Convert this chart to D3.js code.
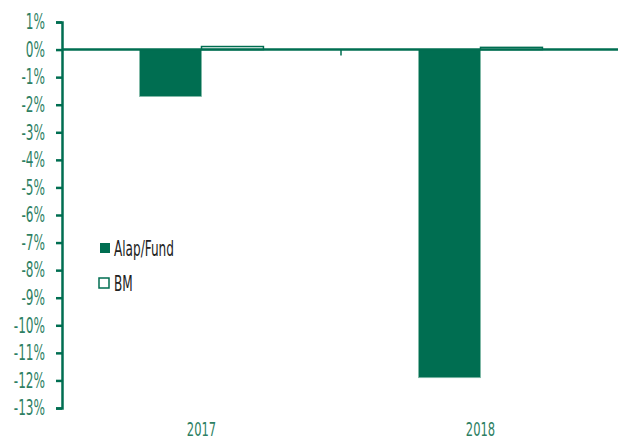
<!DOCTYPE html>
<html>
<head>
<meta charset="utf-8">
<script src="https://cdn.jsdelivr.net/npm/d3@7"></script>
<style>
  body { margin: 0; background: #fff; }
  text { font-family: "DejaVu Sans Condensed", "DejaVu Sans", sans-serif; }
</style>
</head>
<body>
<svg id="chart" width="618" height="441"></svg>
<script>
// chart data
var years = ["2017", "2018"];
var series = ["Alap/Fund", "BM"];
var fundValues = [-1.7, -11.9];
var bmValues = [0.11, 0.08];
var yTicks = [1, 0, -1, -2, -3, -4, -5, -6, -7, -8, -9, -10, -11, -12, -13];

var green = "#006e51";
var labelColor = "#2e7f63";
var squeeze = 0.64; // narrow look of the original font

var svg = d3.select("#chart");

var x = d3.scaleBand().domain(years).range([62, 620]);
var y = d3.scaleLinear().domain([-13, 1]).range([408, 22]);

var barW = x.bandwidth() * 0.222;

// y axis
var yAxis = d3.axisLeft(y).tickValues(yTicks).tickSize(6)
  .tickFormat(function(d) { return d + "%"; });
var gy = svg.append("g").attr("transform", "translate(62,0)").call(yAxis);
gy.select(".domain").attr("stroke", green).attr("stroke-width", 2.5);
gy.selectAll(".tick line").attr("stroke", green).attr("stroke-width", 2.5);
gy.selectAll(".tick text")
  .attr("fill", labelColor)
  .attr("x", 0)
  .attr("transform", "translate(-17,0) scale(" + squeeze + ",1)")
  .style("font-size", "21px");

// bars: fund
svg.selectAll("rect.fund")
  .data(fundValues)
  .enter().append("rect")
  .attr("class", "fund")
  .attr("x", function(d, i) { return x(years[i]) + x.bandwidth() / 2 - barW; })
  .attr("y", function(d) { return y(Math.max(0, d)); })
  .attr("width", barW)
  .attr("height", function(d) { return Math.abs(y(d) - y(0)); })
  .attr("fill", green)
  .attr("stroke", "#7fb8a6")
  .attr("stroke-width", 0.8);

// bars: benchmark
svg.selectAll("rect.bm")
  .data(bmValues)
  .enter().append("rect")
  .attr("class", "bm")
  .attr("x", function(d, i) { return x(years[i]) + x.bandwidth() / 2; })
  .attr("y", function(d) { return y(Math.max(0, d)); })
  .attr("width", barW)
  .attr("height", function(d) { return Math.abs(y(d) - y(0)); })
  .attr("fill", "#fff")
  .attr("stroke", green)
  .attr("stroke-width", 1.5);

// zero line
svg.append("line")
  .attr("x1", 62).attr("x2", 618)
  .attr("y1", y(0)).attr("y2", y(0))
  .attr("stroke", green).attr("stroke-width", 2.5);

// category separator tick
svg.append("line")
  .attr("x1", x("2018")).attr("x2", x("2018"))
  .attr("y1", y(0)).attr("y2", y(0) + 6)
  .attr("stroke", green).attr("stroke-width", 1.5);

// category labels
svg.selectAll("text.cat")
  .data(years)
  .enter().append("text")
  .attr("class", "cat")
  .attr("transform", function(d) {
    return "translate(" + (x(d) + x.bandwidth() / 2) + ",436) scale(" + squeeze + ",1)";
  })
  .attr("text-anchor", "middle")
  .attr("fill", labelColor)
  .style("font-size", "20px")
  .text(function(d) { return d; });

// legend
var legend = svg.append("g");
legend.append("rect").attr("x", 100).attr("y", 243).attr("width", 10).attr("height", 10)
  .attr("fill", green);
legend.append("rect").attr("x", 99).attr("y", 278).attr("width", 10).attr("height", 10)
  .attr("fill", "#fff").attr("stroke", green).attr("stroke-width", 1.5);
legend.selectAll("text")
  .data(series)
  .enter().append("text")
  .attr("transform", function(d, i) {
    return "translate(114," + (256 + i * 35) + ") scale(" + squeeze + ",1)";
  })
  .attr("fill", "#222")
  .style("font-size", "21px")
  .text(function(d) { return d; });
</script>
</body>
</html>
